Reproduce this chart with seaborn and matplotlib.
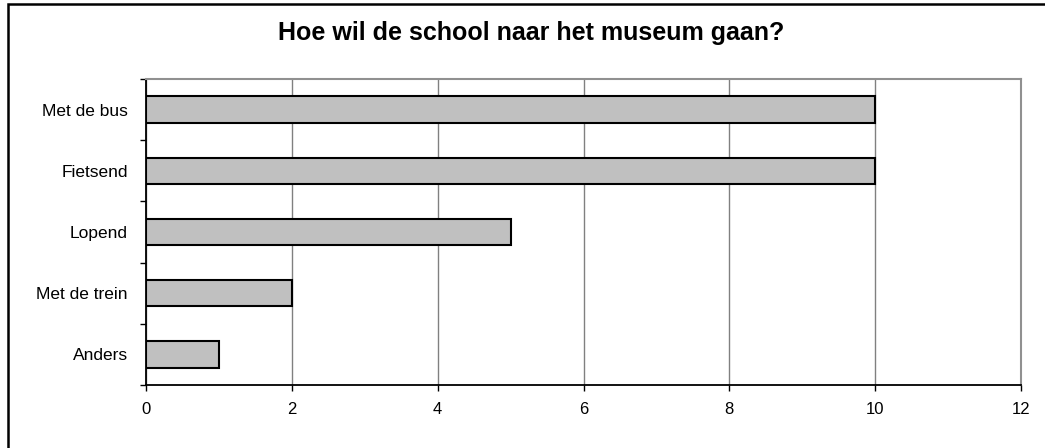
import matplotlib
matplotlib.use("Agg")
import matplotlib.pyplot as plt
from matplotlib.patches import Rectangle
import pandas as pd
import seaborn as sns

# data
categories = ["Met de bus", "Fietsend", "Lopend", "Met de trein", "Anders"]
counts = [10, 10, 5, 2, 1]
x_ticks = [0, 2, 4, 6, 8, 10, 12]
title = "Hoe wil de school naar het museum gaan?"

df = pd.DataFrame({"vervoer": categories, "aantal": counts})

sns.set_style("white")
plt.rcParams["font.family"] = ["Liberation Sans", "DejaVu Sans"]
plt.rcParams["text.color"] = "black"
plt.rcParams["xtick.color"] = "black"
plt.rcParams["ytick.color"] = "black"

fig = plt.figure(figsize=(10.45, 4.48), dpi=100)
ax = fig.add_axes([146 / 1045, 1 - 385 / 448, (1021 - 146) / 1045, (385 - 79) / 448])

sns.barplot(data=df, x="aantal", y="vervoer", order=categories, orient="h",
            color="#C0C0C0", edgecolor="black", linewidth=1.5, width=0.43,
            saturation=1, ax=ax)

ax.set_xlim(0, 12)
ax.set_ylim(4.5, -0.5)
ax.set_xticks(x_ticks)
ax.set_xticklabels([str(t) for t in x_ticks], fontsize=12)
ax.set_xlabel("")
ax.set_ylabel("")
ax.set_yticks(range(len(categories)))
ax.set_yticklabels(categories, fontsize=12.5)
ax.set_yticks([i - 0.5 for i in range(len(categories) + 1)], minor=True)
ax.tick_params(axis="y", which="major", length=0, pad=13)
ax.tick_params(axis="y", which="minor", length=4.5, width=1, color="black", direction="out", left=True)
ax.tick_params(axis="x", length=4, width=1, color="black", direction="out", pad=8, bottom=True)

ax.xaxis.grid(True, color="#808080", linewidth=1)
ax.yaxis.grid(False)
ax.set_axisbelow(True)

for side in ["left", "bottom"]:
    ax.spines[side].set_color("black")
    ax.spines[side].set_linewidth(1.3)
for side in ["top", "right"]:
    ax.spines[side].set_visible(True)
    ax.spines[side].set_color("#909090")
    ax.spines[side].set_linewidth(1.5)

fig.text(531 / 1045, 1 - 40 / 448, title, ha="center", va="baseline",
         fontsize=18, fontweight="bold", color="black")

# chart border (runs off the right and bottom edge like the reference)
fig.patches.append(Rectangle((8 / 1045, -0.1), 1.2, 1.1 - 4 / 448, transform=fig.transFigure,
                             fill=False, edgecolor="black", linewidth=1.8))

fig.savefig("out.png", dpi=100)
